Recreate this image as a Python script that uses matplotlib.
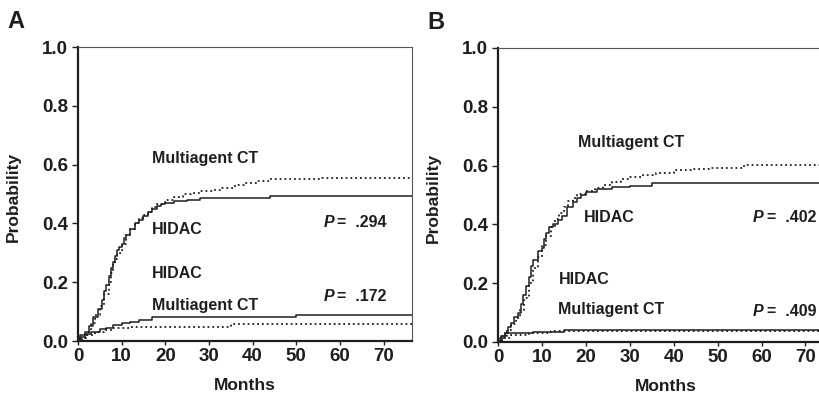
import matplotlib
matplotlib.use("Agg")
import matplotlib.pyplot as plt

plt.rcParams['font.family'] = ['Liberation Sans', 'DejaVu Sans']
plt.rcParams['font.weight'] = 'bold'

ink = "#1e1e1e"

# ---- panel A ----
a_hidac_hi_t = [0, 0.5, 1.5, 2.5, 3.5, 4.5, 5.5, 6.0, 6.5, 7.0, 7.5, 8.0, 8.5, 9.0, 9.5, 10,
                10.5, 11, 12, 13, 14, 15, 16, 17, 18, 19, 20, 22, 25, 28, 31, 44, 76.5]
a_hidac_hi_p = [0, 0.02, 0.03, 0.05, 0.08, 0.11, 0.14, 0.17, 0.19, 0.22, 0.25, 0.27, 0.29, 0.31,
                0.32, 0.33, 0.35, 0.36, 0.38, 0.40, 0.41, 0.425, 0.44, 0.45, 0.46, 0.465, 0.47,
                0.475, 0.48, 0.485, 0.488, 0.492, 0.492]
a_mct_hi_t = [0, 1, 2, 3, 4, 5, 6, 7, 7.5, 8, 8.5, 9, 10, 11, 12, 13, 14, 15, 16, 17, 18, 20,
              22, 24, 26, 28, 31, 33, 36, 38, 41, 44, 56, 76.5]
a_mct_hi_p = [0, 0.01, 0.03, 0.06, 0.09, 0.12, 0.16, 0.20, 0.23, 0.26, 0.28, 0.30, 0.33, 0.36,
              0.38, 0.40, 0.42, 0.43, 0.44, 0.455, 0.465, 0.48, 0.49, 0.50, 0.505, 0.51, 0.515,
              0.52, 0.53, 0.538, 0.545, 0.55, 0.556, 0.556]
a_hidac_lo_t = [0, 0.5, 1.5, 3, 5, 6.5, 8, 10, 12, 14, 17, 50, 76.5]
a_hidac_lo_p = [0, 0.015, 0.025, 0.03, 0.04, 0.045, 0.055, 0.06, 0.066, 0.07, 0.081, 0.089, 0.089]
a_mct_lo_t = [0, 0.5, 2, 4, 6, 8, 12, 35, 76.5]
a_mct_lo_p = [0, 0.01, 0.02, 0.03, 0.038, 0.045, 0.049, 0.058, 0.058]

# ---- panel B ----
b_hidac_hi_t = [0, 0.7, 1.5, 2.2, 3, 3.7, 4.5, 5.2, 5.8, 6.4, 7, 7.5, 8, 9, 10, 10.5, 11, 11.7,
                12.5, 13.6, 14.5, 15.8, 17, 18, 19, 20, 22.5, 26, 30, 35, 76.5]
b_hidac_hi_p = [0, 0.02, 0.03, 0.05, 0.065, 0.085, 0.10, 0.13, 0.16, 0.19, 0.22, 0.26, 0.28,
                0.31, 0.32, 0.35, 0.37, 0.39, 0.40, 0.415, 0.43, 0.46, 0.475, 0.49, 0.50, 0.51,
                0.52, 0.528, 0.53, 0.54, 0.54]
b_mct_hi_t = [0, 1, 2, 3, 4, 5, 6, 7, 8, 9, 10, 11, 12, 13, 14, 15, 16, 17, 18, 20, 22, 24, 26,
              28, 30, 33, 36, 40, 44, 48, 56, 76.5]
b_mct_hi_p = [0, 0.02, 0.04, 0.06, 0.08, 0.11, 0.15, 0.20, 0.25, 0.29, 0.33, 0.36, 0.39, 0.42,
              0.44, 0.46, 0.48, 0.49, 0.505, 0.515, 0.525, 0.535, 0.545, 0.553, 0.56, 0.568,
              0.575, 0.585, 0.59, 0.592, 0.602, 0.602]
b_hidac_lo_t = [0, 0.5, 1.5, 8, 15, 76.5]
b_hidac_lo_p = [0, 0.012, 0.03, 0.035, 0.042, 0.042]
b_mct_lo_t = [0, 1, 3, 7, 12, 76.5]
b_mct_lo_p = [0, 0.015, 0.025, 0.032, 0.036, 0.036]

x_ticks = [0, 10, 20, 30, 40, 50, 60, 70]
y_ticks = [0.0, 0.2, 0.4, 0.6, 0.8, 1.0]

a_labels = [("Multiagent CT", 17.0, 0.62), ("HIDAC", 17.0, 0.38),
            ("HIDAC", 17.0, 0.229), ("Multiagent CT", 17.0, 0.122)]
a_pvals = [(".294", 56.2, 0.403), (".172", 56.2, 0.152)]
b_labels = [("Multiagent CT", 18.2, 0.677), ("HIDAC", 19.6, 0.423),
            ("HIDAC", 13.8, 0.214), ("Multiagent CT", 13.6, 0.11)]
b_pvals = [(".402", 58.0, 0.423), (".409", 58.0, 0.105)]

fig = plt.figure(figsize=(8.2, 3.95), dpi=100)
axA = fig.add_axes([0.0951, 0.1367, 0.4073, 0.7443])
axB = fig.add_axes([0.6073, 0.1342, 0.4098, 0.7443])


def panel(ax, curves, labels, pvals, letter, dotted_frame):
    for t, p, ls in curves:
        ax.step(t, p, where='post', color=ink, lw=1.1 if ls == '-' else 1.3,
                linestyle=ls)
    ax.set_xlim(0, 76.5)
    ax.set_ylim(0, 1.0)
    ax.set_xticks(x_ticks)
    ax.set_yticks(y_ticks)
    ax.set_yticklabels(["%.1f" % v for v in y_ticks])
    ax.tick_params(axis='y', length=4, width=1, pad=3, labelsize=13.5, colors=ink)
    ax.tick_params(axis='x', length=3, width=1, pad=2, labelsize=13.5, colors=ink)
    for s in ['left', 'bottom']:
        ax.spines[s].set_linewidth(1.6)
        ax.spines[s].set_color(ink)
    for s in ['top', 'right']:
        ax.spines[s].set_linewidth(0.8)
        ax.spines[s].set_color('#555555')
        if dotted_frame:
            ax.spines[s].set_linestyle((0, (1, 1)))
    ax.set_ylabel("Probability", fontsize=12.5, fontweight='bold', color=ink)
    ax.yaxis.set_label_coords(-0.17, 0.49)
    ax.set_xlabel("Months", fontsize=12.5, fontweight='bold', color=ink)
    ax.xaxis.set_label_coords(0.5, -0.125)
    for txt, x, y in labels:
        ax.text(x, y, txt, fontsize=11.5, fontweight='bold', color=ink,
                ha='left', va='center')
    for val, x, y in pvals:
        ax.text(x, y, "P", fontsize=11.5, fontweight='bold', style='italic',
                color=ink, ha='left', va='center')
        ax.annotate("=  " + val, (x, y), xytext=(10, 0), textcoords='offset points',
                    fontsize=11.5, fontweight='bold', color=ink, ha='left', va='center')
    ax.text(-0.21, 1.065, letter, transform=ax.transAxes, fontsize=17,
            fontweight='bold', color=ink, ha='left', va='baseline')


panel(axA, [(a_hidac_hi_t, a_hidac_hi_p, '-'), (a_mct_hi_t, a_mct_hi_p, ':'),
            (a_hidac_lo_t, a_hidac_lo_p, '-'), (a_mct_lo_t, a_mct_lo_p, ':')],
      a_labels, a_pvals, "A", True)
panel(axB, [(b_hidac_hi_t, b_hidac_hi_p, '-'), (b_mct_hi_t, b_mct_hi_p, ':'),
            (b_hidac_lo_t, b_hidac_lo_p, '-'), (b_mct_lo_t, b_mct_lo_p, ':')],
      b_labels, b_pvals, "B", False)

fig.savefig("out.png", dpi=100)
